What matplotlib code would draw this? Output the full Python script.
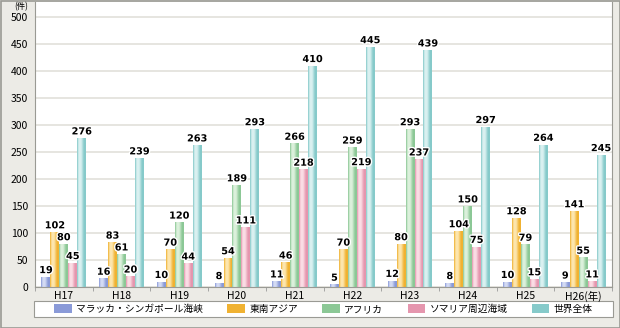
import numpy as np
import matplotlib
matplotlib.use("Agg")
import matplotlib.pyplot as plt
import matplotlib.patheffects as pe
from matplotlib.colors import LinearSegmentedColormap
from matplotlib.patches import Rectangle

plt.rcParams['font.family'] = ['Noto Sans CJK JP', 'DejaVu Sans']

# --- データ ---
years = ["H17", "H18", "H19", "H20", "H21", "H22", "H23", "H24", "H25", "H26(年)"]
series_names = ["マラッカ・シンガポール海峡", "東南アジア", "アフリカ", "ソマリア周辺海域", "世界全体"]
malacca = [19, 16, 10, 8, 11, 5, 12, 8, 10, 9]
se_asia = [102, 83, 70, 54, 46, 70, 80, 104, 128, 141]
africa = [80, 61, 120, 189, 266, 259, 293, 150, 79, 55]
somalia = [45, 20, 44, 111, 218, 219, 237, 75, 15, 11]
world = [276, 239, 263, 293, 410, 445, 439, 297, 264, 245]
series = [malacca, se_asia, africa, somalia, world]

# (暗, 明) の色
shades = [("#8a9ad8", "#d4dbf4"),
          ("#f0b232", "#fde6ae"),
          ("#8cc896", "#dcf1dc"),
          ("#e596ae", "#fbdde5"),
          ("#86caca", "#daf1f1")]

fig = plt.figure(figsize=(6.2, 3.28), dpi=100)
fig.patch.set_facecolor("#ecebe6")
ax = fig.add_axes([35 / 620, 1 - 287 / 328, (612 - 35) / 620, 285 / 328])
ax.set_facecolor("white")

n = len(years)
x = np.arange(n)
w = 9 / 58
offsets = (np.arange(5) - 2) * w

for k, vals in enumerate(series):
    dark, light = shades[k]
    cmap = LinearSegmentedColormap.from_list(
        "g%d" % k, [(0, dark), (0.2, light), (0.45, light), (0.8, dark), (1, dark)])
    bars = ax.bar(x + offsets[k], vals, width=w, color=dark, linewidth=0, zorder=2)
    for b, v in zip(bars, vals):
        grad = np.linspace(0, 1, 32).reshape(1, -1)
        im = ax.imshow(grad, cmap=cmap, aspect="auto", zorder=2.5,
                       extent=(b.get_x(), b.get_x() + b.get_width(), 0, b.get_height()))
        im.set_clip_path(b)
        ax.text(b.get_x() + b.get_width() / 2, v + 3, str(v), ha="center", va="bottom",
                fontsize=7, fontweight="bold", family="DejaVu Sans", zorder=4,
                path_effects=[pe.withStroke(linewidth=2, foreground="white")])

ax.set_xlim(-0.5, n - 0.5)
ax.set_ylim(0, 528)
ax.set_yticks(range(0, 501, 50))
ax.tick_params(axis="y", length=0, labelsize=7.5, pad=5)
ax.set_xticks(x)
ax.set_xticklabels(years, fontsize=7.5)
ax.tick_params(axis="x", length=0, pad=3)
ax.set_xticks(np.arange(n + 1) - 0.5, minor=True)
ax.tick_params(axis="x", which="minor", length=3, color="#999999")
ax.grid(axis="y", color="#e4e3dd", linewidth=1.3, zorder=0)
ax.set_axisbelow(True)
for s in ax.spines.values():
    s.set_color("#9a9a94")
    s.set_linewidth(0.8)
ax.spines["top"].set_visible(False)

fig.text(21 / 620, 1 - 7 / 328, "(件)", fontsize=6, ha="center", va="center")

# 外枠
fig.add_artist(Rectangle((0.5 / 620, 0.5 / 328), 619 / 620, 327 / 328, transform=fig.transFigure,
                         fill=False, edgecolor="#9a9a94", linewidth=1.2))

handles = [Rectangle((0, 0), 1, 1, facecolor=shades[k][0], edgecolor="none") for k in range(5)]
leg = fig.legend(handles, series_names, loc="center", ncol=5,
                 bbox_to_anchor=(34 / 620, 1 - 317 / 328, (613 - 34) / 620, 16 / 328),
                 fontsize=7, handlelength=1.8, handleheight=1.0, handletextpad=0.45,
                 columnspacing=2.5, borderpad=0.25, frameon=False, borderaxespad=0)
fig.add_artist(Rectangle((34 / 620, 1 - 317 / 328), (613 - 34) / 620, 16 / 328,
                         transform=fig.transFigure, facecolor="white",
                         edgecolor="#9a9a94", linewidth=0.8, zorder=0))

fig.savefig("out.png", dpi=100, facecolor=fig.get_facecolor())
